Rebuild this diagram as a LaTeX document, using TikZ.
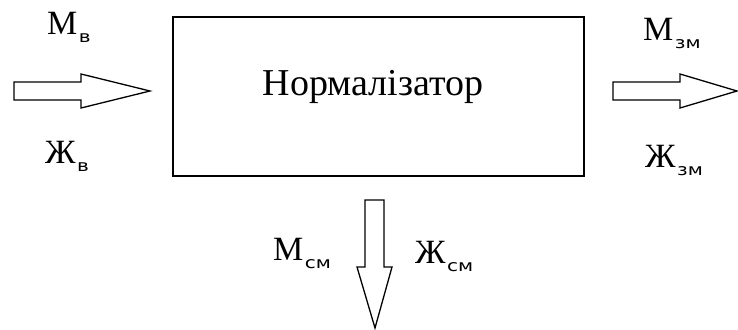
\documentclass[tikz,border=0pt]{standalone}
\usepackage{fontspec}
\newfontfamily\serifcyr{Liberation Serif}
\newfontfamily\subfont{DejaVu Sans}
\newcommand{\lbl}[2]{{\serifcyr\fontsize{34}{34}\selectfont #1\hspace{1.5pt}\raisebox{-8pt}{\scalebox{1.25}[1]{\subfont\fontsize{16}{16}\selectfont #2}}}}
\tikzset{
  blk/.style={draw=black, line width=1.4pt},
  barrow/.style={draw=black, line width=1.3pt, fill=white, line join=miter},
  lab/.style={inner sep=0pt, anchor=base west}
}
\begin{document}
\begin{tikzpicture}[x=1pt,y=-1pt]
\useasboundingbox (0,0) rectangle (738,329);
% main box
\node[blk, minimum width=411pt, minimum height=159pt, inner sep=0pt] (box) at (378.5,96.5) {};
\node[inner sep=0pt, anchor=base] (t) at (373,95) {\serifcyr\fontsize{38}{38}\selectfont Нормалізатор};
% left input arrow
\draw[barrow] (14,82) -- (81,82) -- (81,74) -- (150,91) -- (81,108) -- (81,100) -- (14,100) -- cycle;
% right output arrow
\draw[barrow] (613,82) -- (680,82) -- (680,74) -- (737,91) -- (680,108) -- (680,100) -- (613,100) -- cycle;
% bottom output arrow
\draw[barrow] (365,200) -- (384,200) -- (384,267) -- (392,267) -- (375,328) -- (357,267) -- (365,267) -- cycle;
% labels
\node[lab] (mv) at (47,35) {\lbl{М}{в}};
\node[lab] (zv) at (45,163) {\lbl{Ж}{в}};
\node[lab] (mzm) at (643,41) {\lbl{М}{зм}};
\node[lab] (zzm) at (645,167) {\lbl{Ж}{зм}};
\node[lab] (msm) at (273,260) {\lbl{М}{см}};
\node[lab] (zsm) at (415,263) {\lbl{Ж}{см}};
\end{tikzpicture}
\end{document}
